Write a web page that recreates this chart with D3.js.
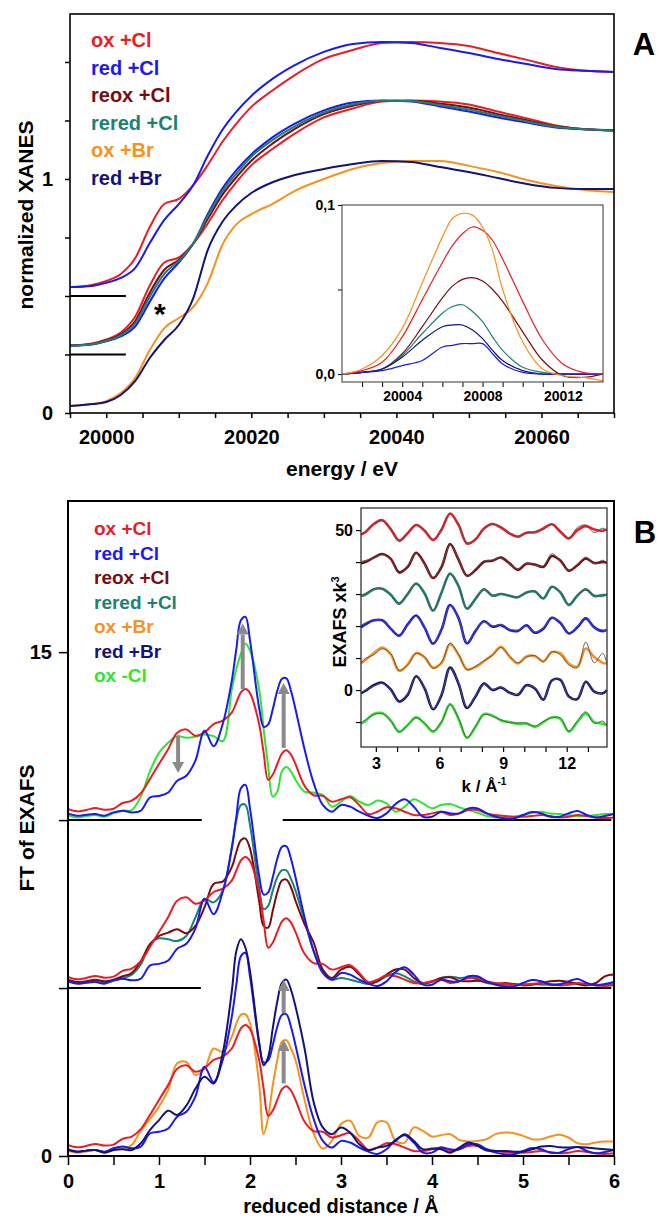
<!DOCTYPE html>
<html>
<head>
<meta charset="utf-8">
<script src="https://cdn.jsdelivr.net/npm/d3@7"></script>
<style>
  html, body { margin: 0; padding: 0; background: #fff; }
  svg { display: block; }
  text { font-family: "Liberation Sans", Arial, sans-serif; font-weight: bold; }
</style>
</head>
<body>
<div id="figure"></div>
<script>
// ---------- panel A : XANES ----------
var xanesEnergy = [19995, 19998, 20000, 20002, 20004, 20006, 20008, 20010, 20012, 20014, 20016, 20018, 20020,
                   20023, 20026, 20030, 20034, 20038, 20042, 20046, 20050, 20054, 20058, 20062, 20066, 20070];
var xanesOxCl   = [0.038, 0.047, 0.064, 0.094, 0.162, 0.295, 0.393, 0.415, 0.474, 0.560, 0.658, 0.739, 0.808,
                   0.880, 0.944, 1.013, 1.051, 1.081, 1.085, 1.081, 1.068, 1.038, 1.009, 0.979, 0.962, 0.957];
var xanesRedCl  = [0.038, 0.043, 0.056, 0.077, 0.120, 0.226, 0.325, 0.393, 0.474, 0.600, 0.709, 0.790, 0.855,
                   0.930, 0.987, 1.043, 1.077, 1.085, 1.081, 1.060, 1.038, 1.013, 0.991, 0.970, 0.962, 0.957];
var xanesReoxCl = [0.038, 0.045, 0.060, 0.086, 0.143, 0.264, 0.362, 0.405, 0.474, 0.580, 0.682, 0.760, 0.828,
                   0.903, 0.964, 1.027, 1.063, 1.083, 1.084, 1.072, 1.055, 1.027, 1.001, 0.975, 0.962, 0.957];
var xanesReredCl= [0.038, 0.044, 0.058, 0.082, 0.133, 0.247, 0.345, 0.400, 0.474, 0.592, 0.697, 0.775, 0.845,
                   0.918, 0.975, 1.034, 1.069, 1.084, 1.083, 1.066, 1.047, 1.020, 0.996, 0.973, 0.962, 0.957];
var xanesOxBr   = [0.030, 0.038, 0.051, 0.085, 0.150, 0.269, 0.363, 0.406, 0.453, 0.556, 0.718, 0.808, 0.850,
                   0.895, 0.949, 1.000, 1.043, 1.068, 1.077, 1.077, 1.056, 1.030, 0.996, 0.970, 0.953, 0.944];
var xanesRedBr  = [0.030, 0.038, 0.047, 0.077, 0.137, 0.235, 0.312, 0.376, 0.491, 0.697, 0.816, 0.889, 0.940,
                   0.987, 1.017, 1.043, 1.064, 1.077, 1.073, 1.051, 1.030, 1.004, 0.979, 0.962, 0.957, 0.957];

// which spectra are stacked in which group, and their vertical offset
var xanesGroups = [
  { offset: 0.5,  keys: ["oxCl", "redCl"] },
  { offset: 0.25, keys: ["oxCl", "redCl", "reoxCl", "reredCl"] },
  { offset: 0,    keys: ["oxBr", "redBr"] }
];
var xanesBaselines = [{ value: 0.5, from: 19995, to: 20002.7 }, { value: 0.25, from: 19995, to: 20002.7 }];

// inset A : pre-edge peaks
var preEnergy   = [20001, 20002, 20003, 20004, 20005, 20006, 20006.5, 20007, 20007.5, 20008, 20008.5, 20009, 20010, 20011, 20012, 20013, 20014];
var preOxBr     = [0.000, 0.003, 0.011, 0.027, 0.054, 0.081, 0.092, 0.095, 0.094, 0.087, 0.073, 0.050, 0.019, 0.003, -0.001, -0.002, -0.004];
var preOxCl     = [0.000, 0.002, 0.007, 0.022, 0.044, 0.066, 0.076, 0.083, 0.087, 0.085, 0.079, 0.068, 0.043, 0.020, 0.006, 0.001, 0.000];
var preReoxCl   = [0.000, 0.001, 0.003, 0.012, 0.028, 0.045, 0.052, 0.056, 0.057, 0.055, 0.050, 0.043, 0.025, 0.008, -0.001, -0.002, 0.000];
var preReredCl  = [0.000, 0.001, 0.003, 0.011, 0.024, 0.036, 0.040, 0.041, 0.037, 0.031, 0.022, 0.014, 0.004, 0.001, 0.000, 0.000, 0.000];
var preRedBr    = [0.000, 0.001, 0.003, 0.010, 0.020, 0.028, 0.029, 0.029, 0.026, 0.021, 0.014, 0.008, 0.002, 0.000, 0.000, 0.000, 0.000];
var preRedCl    = [0.000, 0.001, 0.002, 0.005, 0.008, 0.016, 0.017, 0.018, 0.018, 0.018, 0.012, 0.006, 0.001, 0.000, 0.000, 0.000, 0.000];

// ---------- panel B : FT of EXAFS ----------
var ftR = [0, 0.1, 0.2, 0.3, 0.4, 0.5, 0.6, 0.7, 0.8, 0.9,
           1.0, 1.1, 1.2, 1.3, 1.4, 1.5, 1.6, 1.7, 1.8,
           1.85, 1.9, 1.95, 2.0,
           2.1, 2.15, 2.2, 2.25, 2.3, 2.35, 2.4, 2.45, 2.5,
           2.6, 2.7, 2.8, 2.9, 3.0, 3.1, 3.2, 3.3, 3.4, 3.5,
           3.6, 3.7, 3.8, 3.9, 4.0, 4.1, 4.2, 4.3, 4.4, 4.5,
           4.6, 4.7, 4.8, 4.9, 5.0, 5.1, 5.2, 5.3, 5.4, 5.5,
           5.6, 5.7, 5.8, 5.9, 6.0];
var ftOxCl = [0.33, 0.26, 0.30, 0.36, 0.31, 0.34, 0.51, 0.58, 0.80, 1.22,
              1.67, 2.11, 2.60, 2.70, 2.51, 2.61, 2.86, 2.96, 3.20,
              3.50, 3.80, 3.90, 3.78,
              2.86, 2.00, 1.20, 1.35, 1.67, 1.98, 2.08, 1.95, 1.67,
              1.02, 0.74, 0.72, 0.55, 0.62, 0.68, 0.45, 0.18, 0.25, 0.38,
              0.35, 0.25, 0.15, 0.15, 0.20, 0.25, 0.15, 0.20, 0.30, 0.30,
              0.20, 0.15, 0.12, 0.10, 0.10, 0.12, 0.15, 0.12, 0.08, 0.10,
              0.15, 0.12, 0.08, 0.06, 0.08];
var ftRedCl = [0.20, 0.13, 0.16, 0.18, 0.13, 0.23, 0.28, 0.23, 0.28, 0.67,
               0.72, 0.82, 1.17, 1.32, 1.77, 2.66, 2.20, 2.86, 4.15,
               5.10, 5.95, 6.05, 5.35,
               3.35, 2.78, 2.85, 3.30, 3.85, 4.20, 4.22, 3.85, 3.30,
               2.10, 1.10, 0.45, 0.25, 0.45, 0.40, 0.25, 0.13, 0.06, 0.20,
               0.48, 0.62, 0.40, 0.10, 0.10, 0.25, 0.20, 0.20, 0.35, 0.35,
               0.20, 0.10, 0.05, 0.05, 0.15, 0.24, 0.20, 0.10, 0.10, 0.20,
               0.27, 0.15, 0.08, 0.12, 0.18];
var ftReoxCl = [0.25, 0.18, 0.20, 0.25, 0.20, 0.25, 0.35, 0.45, 0.80, 1.30,
                1.55, 1.65, 1.75, 1.63, 1.85, 2.40, 3.10, 3.17, 3.60,
                4.05, 4.40, 4.45, 4.15,
                2.60, 1.85, 1.80, 2.30, 2.85, 3.20, 3.23, 3.00, 2.60,
                1.90, 1.35, 0.55, 0.30, 0.55, 0.63, 0.40, 0.15, 0.20, 0.40,
                0.55, 0.55, 0.30, 0.15, 0.20, 0.30, 0.32, 0.22, 0.20, 0.22,
                0.18, 0.12, 0.15, 0.12, 0.08, 0.10, 0.15, 0.20, 0.22, 0.18,
                0.12, 0.08, 0.15, 0.35, 0.40];
var ftReredCl = [0.20, 0.15, 0.18, 0.20, 0.15, 0.22, 0.30, 0.40, 0.70, 1.30,
                 1.48, 1.45, 1.40, 1.55, 2.10, 2.65, 2.55, 2.90, 4.20,
                 5.00, 5.45, 5.45, 4.85,
                 3.00, 2.35, 2.45, 2.90, 3.30, 3.50, 3.50, 3.25, 2.90,
                 2.00, 1.10, 0.50, 0.25, 0.30, 0.25, 0.18, 0.12, 0.20, 0.35,
                 0.44, 0.35, 0.20, 0.12, 0.18, 0.30, 0.34, 0.30, 0.32, 0.25,
                 0.15, 0.12, 0.10, 0.10, 0.10, 0.12, 0.10, 0.10, 0.12, 0.15,
                 0.12, 0.10, 0.10, 0.10, 0.12];
var ftOxBr = [0.16, 0.10, 0.13, 0.18, 0.10, 0.18, 0.23, 0.33, 0.75, 1.10,
              1.47, 1.96, 2.76, 2.80, 2.41, 2.60, 3.20, 3.10, 3.55,
              3.95, 4.20, 4.22, 3.95,
              2.16, 0.65, 1.17, 2.10, 2.86, 3.40, 3.45, 3.20, 2.86,
              1.67, 0.67, 0.22, 0.45, 0.95, 1.05, 0.60, 0.55, 1.00, 1.00,
              0.45, 0.40, 0.85, 0.75, 0.58, 0.62, 0.65, 0.48, 0.43, 0.45,
              0.50, 0.65, 0.70, 0.68, 0.60, 0.50, 0.50, 0.58, 0.63, 0.55,
              0.38, 0.35, 0.40, 0.43, 0.43];
var ftRedBr = [0.18, 0.13, 0.16, 0.18, 0.10, 0.18, 0.20, 0.18, 0.38, 0.77,
               1.07, 1.35, 1.22, 1.50, 2.00, 2.36, 2.16, 3.06, 4.90,
               6.10, 6.45, 6.20, 5.50,
               3.40, 2.70, 2.95, 3.80, 4.60, 5.15, 5.25, 4.95, 4.45,
               3.20, 1.60, 0.85, 0.65, 0.85, 0.70, 0.35, 0.18, 0.25, 0.30,
               0.45, 0.65, 0.45, 0.20, 0.22, 0.20, 0.10, 0.25, 0.40, 0.30,
               0.16, 0.15, 0.15, 0.13, 0.13, 0.20, 0.28, 0.30, 0.26, 0.25,
               0.27, 0.25, 0.22, 0.20, 0.18];
var ftOxNoCl = [0.15, 0.08, 0.12, 0.15, 0.10, 0.20, 0.28, 0.30, 0.70, 1.45,
                2.00, 2.30, 2.50, 2.45, 2.48, 2.55, 2.50, 2.35, 3.90,
                4.50, 4.95, 5.25, 5.05,
                3.90, 2.70, 1.60, 0.70, 0.85, 1.45, 1.58, 1.45, 1.20,
                0.85, 0.82, 0.75, 0.40, 0.55, 0.72, 0.55, 0.45, 0.58, 0.50,
                0.25, 0.40, 0.62, 0.50, 0.35, 0.45, 0.48, 0.38, 0.30, 0.22,
                0.12, 0.08, 0.08, 0.10, 0.15, 0.22, 0.25, 0.20, 0.18, 0.15,
                0.12, 0.12, 0.15, 0.18, 0.18];

var ftGroups = [
  { offset: 10, keys: ["oxNoCl", "oxCl", "redCl"] },
  { offset: 5,  keys: ["reredCl", "reoxCl", "oxCl", "redCl"] },
  { offset: 0,  keys: ["oxBr", "oxCl", "redCl", "redBr"] }
];
var ftBaselines = [
  { value: 10, segments: [[0, 1.47], [2.36, 5.97]] },
  { value: 5,  segments: [[0, 1.46], [2.74, 5.97]] }
];
// grey arrows: position r, from value -> tip value
var ftArrows = [
  { r: 1.21, from: 12.5,  to: 11.4 },
  { r: 1.92, from: 13.9,  to: 15.85 },
  { r: 2.37, from: 12.15, to: 14.08 },
  { r: 2.37, from: 4.25,  to: 5.24 },
  { r: 2.37, from: 2.16,  to: 3.45 }
];

// inset B : k^3 weighted EXAFS (data + fit), stacked
var exafsK = [2.3, 2.5, 2.9, 3.3, 3.7, 4.1, 4.5, 4.9, 5.3, 5.7, 6.1, 6.5, 6.9, 7.3, 7.7, 8.1,
              8.5, 8.9, 9.3, 9.7, 10.1, 10.5, 10.9, 11.3, 11.7, 12.1, 12.5, 12.9, 13.3, 13.7, 13.9];
var exafsOxCl      = [-1.4, -0.7, 1.9, 3.1, 0.3, -3.3, -1.0, 1.6, -0.2, -3.1, 0.2, 5.2, 1.6, -4.2, -2.9, 0.5, 1.9, 0.8, -1.0, -2.1, -0.8, -0.7, 0.5, 1.8, -0.5, -2.6, 0.0, 1.25, 0.2, -0.2, 0.2];
var exafsOxClFit   = [-1.2, -0.4, 1.7, 3.0, 0.4, -3.5, -0.8, 1.8, -0.3, -3.0, 0.3, 5.0, 1.8, -4.0, -2.8, 0.6, 1.7, 1.0, -1.1, -1.9, -1.0, -0.5, 0.3, 1.9, -0.3, -2.4, 0.8, 1.6, -0.8, 0.6, -0.3];
var exafsReoxCl    = [-0.4, 0.0, 1.4, 2.5, 1.0, -3.2, -1.5, 2.9, -0.5, -5.0, -1.5, 5.6, 0.8, -4.3, -2.5, 0.1, 0.4, 1.4, -0.4, -2.4, -0.5, -0.8, -1.5, 1.9, 0.5, -2.7, -1.0, 1.1, -0.3, 0.0, -0.2];
var exafsReoxClFit = [0.2, 0.5, 1.3, 2.3, 0.8, -3.6, -1.3, 2.7, -0.7, -4.8, -1.2, 5.4, 0.9, -4.5, -2.2, 0.3, 0.6, 1.2, -0.6, -2.2, -0.3, -1.0, -1.2, 2.6, 0.3, -2.5, -0.8, 1.5, -0.5, 0.6, -0.4];
var exafsReredCl   = [-0.6, -0.2, 1.5, 1.7, -0.2, -2.9, 0.0, 3.3, 0.2, -5.2, 0.5, 6.4, 2.5, -4.6, -1.5, 1.5, -0.5, 0.0, -0.5, -1.0, 0.5, 0.8, -1.4, 2.3, 0.5, -3.4, -0.5, 1.5, -0.6, -0.3, -0.3];
var exafsReredClFit= [-0.3, 0.2, 1.4, 1.6, -0.4, -3.3, 0.2, 3.1, 0.0, -5.0, 0.6, 6.2, 2.3, -4.4, -1.3, 1.3, -0.3, 0.2, -0.7, -0.8, 0.3, 1.0, -1.2, 2.1, 0.9, -3.2, -0.2, 1.2, -0.3, -0.8, 0.2];
var exafsRedCl     = [-0.4, 0.5, 1.8, 1.8, -0.8, -3.0, 0.5, 3.3, -0.5, -5.5, -1.0, 6.6, 2.5, -5.4, -1.5, 1.5, -0.2, 0.3, -1.2, -1.5, 0.2, -2.1, -0.8, 2.6, 1.0, -2.3, -0.4, 2.4, -0.4, -1.6, -1.2];
var exafsRedClFit  = [0.3, 1.0, 2.0, 1.6, -0.6, -3.2, 0.3, 3.0, -0.3, -5.3, -0.8, 6.4, 2.3, -5.2, -1.3, 1.3, 0.0, 0.5, -1.0, -1.3, 0.0, -1.9, -0.6, 2.4, 1.3, -2.1, -0.2, 2.7, -0.6, -1.2, -1.4];
var exafsOxBr      = [-1.7, -0.6, 1.5, 3.3, 1.2, -4.0, -2.0, 1.6, 0.2, -3.0, -1.5, 4.3, 1.0, -3.5, -2.8, -1.0, 1.0, 3.5, 0.5, -1.7, 0.5, 0.6, -1.0, 1.8, 1.5, -1.7, -2.7, 3.0, 0.3, -1.5, -1.7];
var exafsOxBrFit   = [-1.4, -0.2, 1.0, 2.9, 1.4, -3.8, -2.2, 1.4, 0.4, -3.2, -1.3, 4.7, 1.2, -3.7, -2.6, -0.8, 0.8, 3.3, 0.7, -1.5, 0.3, 0.8, -1.2, 2.0, 1.0, -2.2, -3.0, 5.0, -1.5, 1.5, -2.0];
var exafsRedBr     = [-1.0, -0.3, 1.5, 2.3, 0.2, -3.6, -1.5, 4.3, 0.5, -6.0, -1.5, 7.0, 2.0, -5.6, -2.0, 2.0, 0.0, 0.8, -0.8, -1.5, 1.5, 0.5, -3.0, 3.0, 3.2, -2.0, -2.8, 2.6, -0.5, -1.0, 0.0];
var exafsRedBrFit  = [-0.7, 0.0, 1.3, 2.1, 0.0, -3.8, -1.3, 4.1, 0.7, -5.8, -1.3, 6.8, 2.2, -5.4, -1.8, 1.8, 0.2, 1.0, -1.0, -1.3, 1.3, 0.7, -2.8, 2.8, 3.4, -2.2, -2.6, 2.8, -0.3, -1.2, 0.3];
var exafsOxNoCl    = [-0.5, 0.3, 2.5, 2.8, 0.5, -3.0, -1.0, 1.5, -0.5, -3.0, 0.0, 5.6, 1.0, -5.0, -1.5, 2.5, 2.0, 0.5, 0.0, -0.5, -0.5, -1.5, 0.0, 1.5, 1.0, -3.0, 0.0, 2.7, 0.0, -0.5, -1.0];
var exafsOxNoClFit = [-0.2, 0.6, 2.3, 2.6, 0.3, -3.2, -0.8, 1.3, -0.3, -2.8, 0.2, 5.4, 1.2, -4.8, -1.3, 2.3, 1.8, 0.7, -0.2, -0.3, -0.3, -1.3, 0.2, 1.3, 1.3, -2.8, 0.3, 3.2, -0.4, 0.3, -1.2];
var exafsOffsets = { oxCl: 50, reoxCl: 40, reredCl: 30, redCl: 20, oxBr: 10, redBr: 0, oxNoCl: -10 };

// legends and colours
var legendKeysA = ["oxCl", "redCl", "reoxCl", "reredCl", "oxBr", "redBr"];
var legendKeysB = ["oxCl", "redCl", "reoxCl", "reredCl", "oxBr", "redBr", "oxNoCl"];
var names = { oxCl: "ox +Cl", redCl: "red +Cl", reoxCl: "reox +Cl", reredCl: "rered +Cl",
              oxBr: "ox +Br", redBr: "red +Br", oxNoCl: "ox -Cl" };
var colors = { oxCl: "#ec1c24", redCl: "#1a1af0", reoxCl: "#7a0c10", reredCl: "#1b8272",
               oxBr: "#f7921e", redBr: "#13137c", oxNoCl: "#2ee62e" };

var xanes = { oxCl: xanesOxCl, redCl: xanesRedCl, reoxCl: xanesReoxCl, reredCl: xanesReredCl, oxBr: xanesOxBr, redBr: xanesRedBr };
var pre = [["reoxCl", preReoxCl], ["reredCl", preReredCl], ["redBr", preRedBr], ["redCl", preRedCl], ["oxCl", preOxCl], ["oxBr", preOxBr]];
var ft = { oxCl: ftOxCl, redCl: ftRedCl, reoxCl: ftReoxCl, reredCl: ftReredCl, oxBr: ftOxBr, redBr: ftRedBr, oxNoCl: ftOxNoCl };
var exafs = { oxCl: [exafsOxCl, exafsOxClFit], reoxCl: [exafsReoxCl, exafsReoxClFit], reredCl: [exafsReredCl, exafsReredClFit],
              redCl: [exafsRedCl, exafsRedClFit], oxBr: [exafsOxBr, exafsOxBrFit], redBr: [exafsRedBr, exafsRedBrFit],
              oxNoCl: [exafsOxNoCl, exafsOxNoClFit] };

// ---------- svg ----------
var svg = d3.select("#figure").append("svg").attr("width", 659).attr("height", 1220);
var defs = svg.append("defs");

function addClip(id, x0, x1, y0, y1) {
  defs.append("clipPath").attr("id", id).append("rect")
    .attr("x", x0).attr("y", y0).attr("width", x1 - x0).attr("height", y1 - y0);
}

function styleAxis(g, size) {
  g.select(".domain").remove();
  g.attr("font-size", size).attr("font-family", null);
  g.selectAll(".tick line").attr("stroke", "#000").attr("stroke-width", 1.5);
  g.selectAll(".tick text").attr("fill", "#000");
}

function drawLine(g, xs, ys, offset, x, y, color, width, curve) {
  var line = d3.line()
    .x(function (d, i) { return x(xs[i]); })
    .y(function (d) { return y(d + offset); })
    .curve(curve);
  g.append("path").datum(ys).attr("d", line)
    .attr("fill", "none").attr("stroke", color).attr("stroke-width", width)
    .attr("stroke-linejoin", "round");
}

// ===================== Panel A =====================
var xA = d3.scaleLinear().domain([19995, 20070]).range([70, 614]);
var yA = d3.scaleLinear().domain([0, 1.705]).range([413, 14]);
addClip("clipA", 70, 614, 14, 413);

var gA = svg.append("g");
var axA = gA.append("g").attr("transform", "translate(0,413)")
  .call(d3.axisBottom(xA).tickValues(d3.range(19995, 20071, 5)).tickSize(5).tickPadding(12)
    .tickFormat(function (d) { return d % 20 === 0 ? d : ""; }));
styleAxis(axA, 20);
var ayA = gA.append("g").attr("transform", "translate(70,0)")
  .call(d3.axisLeft(yA).tickValues([0, 0.25, 0.5, 0.75, 1, 1.25, 1.5]).tickSize(5).tickPadding(12)
    .tickFormat(function (d) { return (d === 0 || d === 1) ? d : ""; }));
styleAxis(ayA, 20);

var linesA = gA.append("g").attr("clip-path", "url(#clipA)");
xanesGroups.forEach(function (grp) {
  grp.keys.forEach(function (k) {
    drawLine(linesA, xanesEnergy, xanes[k], grp.offset, xA, yA, colors[k], 2, d3.curveMonotoneX);
  });
});
xanesBaselines.forEach(function (b) {
  gA.append("line").attr("x1", xA(b.from)).attr("x2", xA(b.to))
    .attr("y1", yA(b.value)).attr("y2", yA(b.value))
    .attr("stroke", "#000").attr("stroke-width", 2);
});
gA.append("rect").attr("x", 70).attr("y", 14).attr("width", 544).attr("height", 399)
  .attr("fill", "none").attr("stroke", "#000").attr("stroke-width", 1.6);

gA.append("text").attr("x", xA(20007.4)).attr("y", yA(0.382)).attr("text-anchor", "middle")
  .attr("font-size", 30).text("*");

legendKeysA.forEach(function (k, i) {
  gA.append("text").attr("x", 91).attr("y", 47 + i * 27.6).attr("font-size", 20)
    .attr("fill", colors[k]).text(names[k]);
});

gA.append("text").attr("x", 342).attr("y", 476).attr("text-anchor", "middle").attr("font-size", 21)
  .text("energy / eV");
gA.append("text").attr("transform", "translate(33,215) rotate(-90)").attr("text-anchor", "middle")
  .attr("font-size", 21).text("normalized XANES");
gA.append("text").attr("x", 644).attr("y", 55).attr("text-anchor", "middle").attr("font-size", 31).text("A");

// inset A
var xIA = d3.scaleLinear().domain([20001, 20014]).range([342, 603]);
var yIA = d3.scaleLinear().domain([-0.0047, 0.1]).range([382, 205]);
addClip("clipIA", 342, 603, 205, 382);
var gIA = svg.append("g");
gIA.append("rect").attr("x", 342).attr("y", 205).attr("width", 261).attr("height", 177).attr("fill", "#fff");
var axIA = gIA.append("g").attr("transform", "translate(0,382)")
  .call(d3.axisBottom(xIA).tickValues(d3.range(20002, 20014, 1)).tickSize(5).tickPadding(4)
    .tickFormat(function (d) { return d % 4 === 0 ? d : ""; }));
styleAxis(axIA, 14);
var ayIA = gIA.append("g").attr("transform", "translate(342,0)")
  .call(d3.axisLeft(yIA).tickValues([0, 0.05, 0.1]).tickSize(4).tickPadding(3)
    .tickFormat(function (d) { return d === 0.05 ? "" : d3.format(".1f")(d).replace(".", ","); }));
styleAxis(ayIA, 14);
gIA.selectAll(".tick line").attr("stroke-width", 1);
var linesIA = gIA.append("g").attr("clip-path", "url(#clipIA)");
pre.forEach(function (p) {
  drawLine(linesIA, preEnergy, p[1], 0, xIA, yIA, colors[p[0]], 1.2, d3.curveCatmullRom);
});
gIA.append("rect").attr("x", 342).attr("y", 205).attr("width", 261).attr("height", 177)
  .attr("fill", "none").attr("stroke", "#555").attr("stroke-width", 1.2);

// ===================== Panel B =====================
var xB = d3.scaleLinear().domain([0, 6]).range([68, 614]);
var yB = d3.scaleLinear().domain([0, 19.5]).range([1156, 501]);
addClip("clipB", 68, 614, 501, 1156);

var gB = svg.append("g");
var axB = gB.append("g").attr("transform", "translate(0,1156)")
  .call(d3.axisBottom(xB).tickValues(d3.range(0, 6.01, 0.5)).tickSize(9).tickPadding(9)
    .tickFormat(function (d) { return Number.isInteger(d) ? d : ""; }));
styleAxis(axB, 20);
var ayB = gB.append("g").attr("transform", "translate(68,0)")
  .call(d3.axisLeft(yB).tickValues([0, 5, 10, 15]).tickSize(9).tickPadding(7)
    .tickFormat(function (d) { return (d === 0 || d === 15) ? d : ""; }));
styleAxis(ayB, 20);

ftBaselines.forEach(function (b) {
  b.segments.forEach(function (s) {
    gB.append("line").attr("x1", xB(s[0])).attr("x2", xB(s[1]))
      .attr("y1", yB(b.value)).attr("y2", yB(b.value))
      .attr("stroke", "#000").attr("stroke-width", 2);
  });
});

var linesB = gB.append("g").attr("clip-path", "url(#clipB)");
ftGroups.forEach(function (grp) {
  grp.keys.forEach(function (k) {
    drawLine(linesB, ftR, ft[k], grp.offset, xB, yB, colors[k], 2, d3.curveCatmullRom);
  });
});

// grey arrows
ftArrows.forEach(function (a) {
  var px = xB(a.r), y0 = yB(a.from), y1 = yB(a.to);
  var dir = y1 < y0 ? 1 : -1, headLen = 11, headW = 6;
  gB.append("line").attr("x1", px).attr("x2", px).attr("y1", y0).attr("y2", y1 + dir * headLen)
    .attr("stroke", "#8a8a8a").attr("stroke-width", 4);
  gB.append("path")
    .attr("d", "M" + px + "," + y1 + "L" + (px - headW) + "," + (y1 + dir * headLen) +
               "L" + (px + headW) + "," + (y1 + dir * headLen) + "Z")
    .attr("fill", "#8a8a8a");
});

gB.append("rect").attr("x", 68).attr("y", 501).attr("width", 546).attr("height", 655)
  .attr("fill", "none").attr("stroke", "#000").attr("stroke-width", 2);

legendKeysB.forEach(function (k, i) {
  gB.append("text").attr("x", 94).attr("y", 535 + i * 24.55).attr("font-size", 19)
    .attr("fill", colors[k]).text(names[k]);
});

gB.append("text").attr("x", 341).attr("y", 1213).attr("text-anchor", "middle").attr("font-size", 20)
  .text("reduced distance / Å");
gB.append("text").attr("transform", "translate(34,828) rotate(-90)").attr("text-anchor", "middle")
  .attr("font-size", 21).text("FT of EXAFS");
gB.append("text").attr("x", 645).attr("y", 543).attr("text-anchor", "middle").attr("font-size", 31).text("B");

// inset B
var xIB = d3.scaleLinear().domain([2.3, 13.9]).range([361, 607]);
var yIB = d3.scaleLinear().domain([-17.8, 56.9]).range([747, 508]);
addClip("clipIB", 361, 607, 508, 747);
var gIB = svg.append("g");
gIB.append("rect").attr("x", 361).attr("y", 508).attr("width", 246).attr("height", 239).attr("fill", "#fff");
var axIB = gIB.append("g").attr("transform", "translate(0,747)")
  .call(d3.axisBottom(xIB).tickValues(d3.range(3, 14, 1)).tickSize(5).tickPadding(6)
    .tickFormat(function (d) { return d % 3 === 0 ? d : ""; }));
styleAxis(axIB, 16);
var ayIB = gIB.append("g").attr("transform", "translate(361,0)")
  .call(d3.axisLeft(yIB).tickValues([-10, 0, 10, 20, 30, 40, 50]).tickSize(5).tickPadding(3)
    .tickFormat(function (d) { return (d === 0 || d === 50) ? d : ""; }));
styleAxis(ayIB, 16);
gIB.selectAll(".tick line").attr("stroke-width", 1.2);

var linesIB = gIB.append("g").attr("clip-path", "url(#clipIB)");
Object.keys(exafsOffsets).forEach(function (k) {
  var off = exafsOffsets[k];
  drawLine(linesIB, exafsK, exafs[k][0], off, xIB, yIB, colors[k], 2.6, d3.curveCatmullRom);
  drawLine(linesIB, exafsK, exafs[k][1], off, xIB, yIB, "#555", 0.9, d3.curveCatmullRom);
});
gIB.append("rect").attr("x", 361).attr("y", 508).attr("width", 246).attr("height", 239)
  .attr("fill", "none").attr("stroke", "#333").attr("stroke-width", 1.3);

var kLabel = gIB.append("text").attr("x", 484).attr("y", 792).attr("text-anchor", "middle").attr("font-size", 17);
kLabel.append("tspan").text("k / Å");
kLabel.append("tspan").attr("dy", -7).attr("font-size", 10).text("-1");
var eLabel = gIB.append("text").attr("transform", "translate(346,622) rotate(-90)")
  .attr("text-anchor", "middle").attr("font-size", 18);
eLabel.append("tspan").text("EXAFS xk");
eLabel.append("tspan").attr("dy", -7).attr("font-size", 11).text("3");
</script>
</body>
</html>
